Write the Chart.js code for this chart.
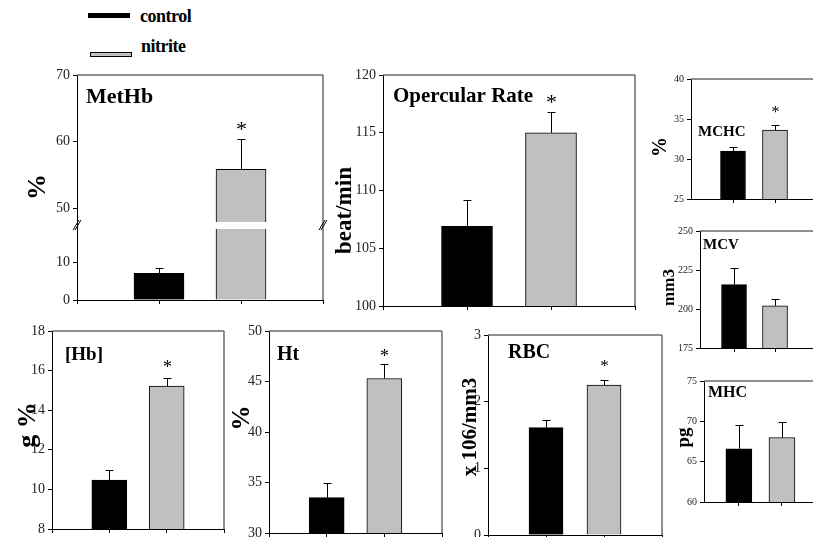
<!DOCTYPE html>
<html>
<head>
<meta charset="utf-8">
<script src="https://cdn.jsdelivr.net/npm/chart.js@4/dist/chart.umd.min.js"></script>
<style>
    body { margin: 0; width: 813px; height: 537px; overflow: hidden; background: #fff; position: relative; }
    canvas { position: absolute; }
    .key { position: absolute; font-family: 'Liberation Serif', 'Times New Roman', serif; font-weight: bold; font-size: 18px; line-height: 20px; color: #000; letter-spacing: -0.5px; }
    .swatch { position: absolute; }
</style>
</head>
<body>
<div class="swatch" style="left:88px;top:13px;width:42px;height:5px;background:#000"></div>
<div class="key" style="left:140px;top:6px">control</div>
<div class="swatch" style="left:90px;top:52px;width:40px;height:3px;background:#c0c0c0;border:1px solid #000"></div>
<div class="key" style="left:141px;top:36px">nitrite</div>
<script>
const FONT = "'Liberation Serif', 'Times New Roman', serif";

// data (mean, upper error)
const categories = ["control", "nitrite"];
const metHbValues = [7.0, 55.9];
const metHbErrors = [1.3, 4.5];
const opercularValues = [106.9, 115.0];
const opercularErrors = [2.3, 1.8];
const hbValues = [10.47, 15.22];
const hbErrors = [0.5, 0.42];
const htValues = [33.5, 45.3];
const htErrors = [1.5, 1.4];
const rbcValues = [1.61, 2.25];
const rbcErrors = [0.11, 0.07];
const mchcValues = [31.0, 33.6];
const mchcErrors = [0.5, 0.6];
const mcvValues = [215.6, 202.1];
const mcvErrors = [10.9, 4.1];
const mhcValues = [66.6, 68.0];
const mhcErrors = [2.9, 1.9];

// which bars carry the significance star
const starsSig = [false, true];
const starsNone = [false, false];

// y tick labels
const metHbUpperTicks = [50, 60, 70];
const metHbLowerTicks = [0, 10];
const opercularTicks = [100, 105, 110, 115, 120];
const hbTicks = [8, 10, 12, 14, 16, 18];
const htTicks = [30, 35, 40, 45, 50];
const rbcTicks = [0, 1, 2, 3];
const mchcTicks = [25, 30, 35, 40];
const mcvTicks = [175, 200, 225, 250];
const mhcTicks = [60, 65, 70, 75];

const decor = {
    id: "decor",
    afterDatasetsDraw(chart, args, o) {
        const { ctx, chartArea: a, scales: { x, y } } = chart;
        const pts = chart.data.datasets[0].data;
        ctx.save();
        ctx.beginPath();
        ctx.rect(a.left, a.top, a.right - a.left, a.bottom - a.top);
        ctx.clip();
        ctx.strokeStyle = "#000";
        ctx.lineWidth = 1;
        pts.forEach((pt, i) => {
            const px = Math.round(x.getPixelForValue(pt.x)) + 0.5;
            const base = y.getPixelForValue(pt.y);
            const top = Math.round(y.getPixelForValue(pt.y + o.err[i])) + 0.5;
            ctx.beginPath();
            ctx.moveTo(px, base);
            ctx.lineTo(px, top);
            ctx.moveTo(px - 4, top);
            ctx.lineTo(px + 4, top);
            ctx.stroke();
            if (o.stars[i]) {
                ctx.font = o.starSize + "px " + FONT;
                ctx.fillStyle = "#000";
                ctx.textAlign = "center";
                ctx.textBaseline = "alphabetic";
                const m = ctx.measureText("*");
                const cy = top - o.starGap;
                ctx.fillText("*", px, cy + (m.actualBoundingBoxAscent - m.actualBoundingBoxDescent) / 2);
            }
        });
        ctx.restore();
    },
    afterDraw(chart, args, o) {
        const { ctx, chartArea: a } = chart;
        ctx.save();
        // top and right frame
        ctx.strokeStyle = "#6b6b6b";
        ctx.lineWidth = 1.5;
        ctx.beginPath();
        if (o.frameTop) {
            ctx.moveTo(a.left, a.top);
            ctx.lineTo(a.right, a.top);
        }
        ctx.moveTo(a.right, o.breakMarks ? a.top - 7 : a.top);
        ctx.lineTo(a.right, a.bottom);
        ctx.stroke();
        if (o.breakMarks) {
            ctx.strokeStyle = "#000";
            ctx.lineWidth = 1;
            ctx.beginPath();
            ctx.moveTo(a.left + 0.5, a.top - 7);
            ctx.lineTo(a.left + 0.5, a.top);
            ctx.stroke();
            const yc = a.top - 4;
            [a.left, a.right].forEach(bx => {
                ctx.beginPath();
                ctx.moveTo(bx - 4, yc + 5);
                ctx.lineTo(bx + 2, yc - 5);
                ctx.moveTo(bx - 2, yc + 5);
                ctx.lineTo(bx + 4, yc - 5);
                ctx.stroke();
            });
        }
        ctx.fillStyle = "#000";
        if (o.title) {
            ctx.font = "bold " + o.title.size + "px " + FONT;
            ctx.textAlign = "left";
            ctx.textBaseline = "middle";
            ctx.fillText(o.title.text, a.left + o.title.dx, a.top + o.title.dy);
        }
        if (o.yTitle) {
            ctx.translate(a.left + o.yTitle.dx, (a.top + a.bottom) / 2 + o.yTitle.dy);
            ctx.rotate(-Math.PI / 2);
            ctx.font = "bold " + o.yTitle.size + "px " + FONT;
            ctx.textAlign = "center";
            ctx.textBaseline = "middle";
            ctx.fillText(o.yTitle.text, 0, 0);
        }
        ctx.restore();
    }
};

function makePanel(p) {
    const padL = 70, padT = 15, padR = 15, xH = 25;
    const w = p.box.r - p.box.l + padL + padR;
    const h = p.box.b - p.box.t + padT + xH;
    const canvas = document.createElement("canvas");
    canvas.width = w;
    canvas.height = h;
    canvas.style.left = (p.box.l - padL) + "px";
    canvas.style.top = (p.box.t - padT) + "px";
    canvas.style.width = w + "px";
    canvas.style.height = h + "px";
    document.body.appendChild(canvas);

    return new Chart(canvas, {
        type: "bar",
        data: {
            labels: categories,
            datasets: [{
                data: p.values.map((v, i) => ({ x: i + 1, y: v })),
                backgroundColor: ["#000000", "#c0c0c0"],
                borderColor: "#000",
                borderWidth: 1,
                borderSkipped: "start",
                barThickness: p.barW,
                clip: 0
            }]
        },
        options: {
            responsive: false,
            animation: false,
            events: [],
            layout: { padding: { left: 0, top: padT, right: padR, bottom: 0 } },
            plugins: {
                legend: { display: false },
                tooltip: { enabled: false },
                decor: {
                    err: p.errors,
                    stars: p.stars,
                    starSize: p.starSize || 16,
                    starGap: p.starGap || 14,
                    title: p.title || null,
                    yTitle: p.yTitle || null,
                    frameTop: p.frameTop !== false,
                    breakMarks: !!p.breakMarks
                }
            },
            scales: {
                x: {
                    type: "linear",
                    min: p.xMin,
                    max: p.xMax,
                    offset: false,
                    afterBuildTicks: s => { s.ticks = p.xTicks.map(v => ({ value: v })); },
                    afterFit: s => { s.height = xH; },
                    border: { display: !p.hideX, color: "#000", width: 1 },
                    grid: { display: !p.hideX, offset: false, drawOnChartArea: false, tickLength: 4, color: "#000" },
                    ticks: { display: false }
                },
                y: {
                    min: p.yMin,
                    max: p.yMax,
                    afterBuildTicks: s => { s.ticks = p.yTicks.map(v => ({ value: v })); },
                    afterFit: s => { s.width = padL; },
                    border: { display: true, color: "#000", width: 1 },
                    grid: { drawOnChartArea: false, tickLength: 4, color: "#000" },
                    ticks: { font: { family: FONT, size: p.tickSize }, color: "#222", padding: 3 }
                }
            }
        },
        plugins: [decor]
    });
}

// MetHb, broken axis: upper and lower part
makePanel({
    box: { l: 77, t: 75, r: 323, b: 222 },
    values: metHbValues, errors: metHbErrors, stars: starsSig,
    yMin: 48, yMax: 70, yTicks: metHbUpperTicks,
    xMin: 0, xMax: 3, xTicks: [0, 1, 2, 3], hideX: true,
    barW: 50, tickSize: 14, starSize: 22, starGap: 14,
    title: { text: "MetHb", size: 22, dx: 9, dy: 22 },
    yTitle: { text: "%", size: 26, dx: -39, dy: 38.5 }
});
makePanel({
    box: { l: 77, t: 229, r: 323, b: 300 },
    values: metHbValues, errors: metHbErrors, stars: starsSig,
    yMin: 0, yMax: 18.7, yTicks: metHbLowerTicks,
    xMin: 0, xMax: 3, xTicks: [0, 1, 2, 3],
    barW: 50, tickSize: 14, frameTop: false, breakMarks: true
});

makePanel({
    box: { l: 383, t: 75, r: 635, b: 306 },
    values: opercularValues, errors: opercularErrors, stars: starsSig,
    yMin: 100, yMax: 120, yTicks: opercularTicks,
    xMin: 0, xMax: 3, xTicks: [0, 1, 2, 3],
    barW: 51, tickSize: 14, starSize: 22, starGap: 14,
    title: { text: "Opercular Rate", size: 21, dx: 10, dy: 22 },
    yTitle: { text: "beat/min", size: 23, dx: -38, dy: 20 }
});

makePanel({
    box: { l: 52, t: 331, r: 224, b: 529 },
    values: hbValues, errors: hbErrors, stars: starsSig,
    yMin: 8, yMax: 18, yTicks: hbTicks,
    xMin: 0, xMax: 3, xTicks: [0, 1, 2, 3],
    barW: 35, tickSize: 14, starSize: 18, starGap: 15,
    title: { text: "[Hb]", size: 19, dx: 13, dy: 24 },
    yTitle: { text: "g %", size: 26, dx: -24, dy: -5 }
});

makePanel({
    box: { l: 269, t: 331, r: 442, b: 533 },
    values: htValues, errors: htErrors, stars: starsSig,
    yMin: 30, yMax: 50, yTicks: htTicks,
    xMin: 0, xMax: 3, xTicks: [0, 1, 2, 3],
    barW: 35, tickSize: 14, starSize: 18, starGap: 12,
    title: { text: "Ht", size: 20, dx: 8, dy: 24 },
    yTitle: { text: "%", size: 25, dx: -26, dy: -14 }
});

makePanel({
    box: { l: 488, t: 335, r: 662, b: 535 },
    values: rbcValues, errors: rbcErrors, stars: starsSig,
    yMin: 0, yMax: 3, yTicks: rbcTicks,
    xMin: 0, xMax: 3, xTicks: [0, 1, 2, 3],
    barW: 34, tickSize: 14, starSize: 17, starGap: 17,
    title: { text: "RBC", size: 20, dx: 20, dy: 18 },
    yTitle: { text: "x 106/mm3", size: 21, dx: -17, dy: -8 }
});

makePanel({
    box: { l: 691, t: 79, r: 817, b: 199 },
    values: mchcValues, errors: mchcErrors, stars: starsSig,
    yMin: 25, yMax: 40, yTicks: mchcTicks,
    xMin: 0, xMax: 3, xTicks: [1, 2],
    barW: 25, tickSize: 10, starSize: 16, starGap: 16,
    title: { text: "MCHC", size: 15, dx: 7, dy: 53 },
    yTitle: { text: "%", size: 20, dx: -30, dy: 8 }
});

makePanel({
    box: { l: 700, t: 231, r: 816, b: 348 },
    values: mcvValues, errors: mcvErrors, stars: starsNone,
    yMin: 175, yMax: 250, yTicks: mcvTicks,
    xMin: 0.17, xMax: 3, xTicks: [1, 2],
    barW: 25, tickSize: 10,
    title: { text: "MCV", size: 15, dx: 3, dy: 14 },
    yTitle: { text: "mm3", size: 17, dx: -30, dy: -2 }
});

makePanel({
    box: { l: 704, t: 381, r: 825, b: 502 },
    values: mhcValues, errors: mhcErrors, stars: starsNone,
    yMin: 60, yMax: 75, yTicks: mhcTicks,
    xMin: 0.19, xMax: 3, xTicks: [1, 2],
    barW: 26, tickSize: 10,
    title: { text: "MHC", size: 16, dx: 4, dy: 12 },
    yTitle: { text: "pg", size: 19, dx: -20, dy: -4 }
});
</script>
</body>
</html>
